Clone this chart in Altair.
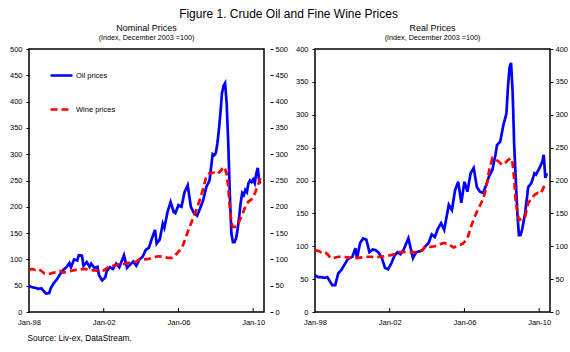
import altair as alt
import pandas as pd

# ---------------- data ----------------
nom_oil_dates = ["1998-01", "1998-03", "1998-05", "1998-07", "1998-09", "1998-11", "1998-12",
                 "1999-02", "1999-03", "1999-05", "1999-07", "1999-09", "1999-11",
                 "2000-01", "2000-03", "2000-04", "2000-06", "2000-08", "2000-09", "2000-11", "2000-12",
                 "2001-02", "2001-04", "2001-05", "2001-07", "2001-09", "2001-10", "2001-12",
                 "2002-02", "2002-03", "2002-05", "2002-07", "2002-09", "2002-11",
                 "2003-02", "2003-04", "2003-06", "2003-08", "2003-10", "2003-12",
                 "2004-02", "2004-04", "2004-06", "2004-08", "2004-10", "2004-11",
                 "2005-01", "2005-03", "2005-04", "2005-06", "2005-08", "2005-10", "2005-11",
                 "2006-01", "2006-03", "2006-05", "2006-07", "2006-09", "2006-11",
                 "2007-01", "2007-03", "2007-05", "2007-07", "2007-09", "2007-10", "2007-11", "2007-12",
                 "2008-01", "2008-02", "2008-03", "2008-04", "2008-05", "2008-06", "2008-07", "2008-08",
                 "2008-09", "2008-10", "2008-11", "2008-12",
                 "2009-01", "2009-02", "2009-03", "2009-04", "2009-05", "2009-06", "2009-07", "2009-08",
                 "2009-09", "2009-10", "2009-11", "2009-12",
                 "2010-01", "2010-02", "2010-03", "2010-04", "2010-05", "2010-06"]
nom_oil_vals = [50, 47, 46, 44, 45, 38, 35,
                36, 45, 55, 62, 72, 80,
                85, 93, 85, 100, 98, 108, 107, 88,
                95, 86, 92, 84, 86, 70, 60,
                66, 78, 85, 82, 92, 85,
                108, 84, 90, 96, 88, 100,
                105, 118, 122, 140, 156, 130,
                138, 168, 160, 190, 209, 190, 188,
                203, 200, 228, 241, 200, 188,
                183, 197, 213, 238, 250, 275, 300, 298,
                302, 320, 345, 378, 416, 430, 435, 397,
                321, 226, 150, 133,
                133, 140, 156, 180, 207, 226, 222, 232,
                228, 245, 250, 247,
                252, 245, 262, 274, 247, 245]

nom_wine_dates = ["1998-01", "1998-03", "1998-05", "1998-07", "1998-09", "1998-11",
                  "1999-01", "1999-03", "1999-05", "1999-07", "1999-09", "1999-11",
                  "2000-01", "2000-04", "2000-07", "2000-10",
                  "2001-01", "2001-04", "2001-07", "2001-10",
                  "2002-01", "2002-04", "2002-07", "2002-10",
                  "2003-01", "2003-04", "2003-07", "2003-10", "2003-12",
                  "2004-03", "2004-06", "2004-09", "2004-12",
                  "2005-03", "2005-06", "2005-09", "2005-12",
                  "2006-02", "2006-04", "2006-07", "2006-10",
                  "2007-01", "2007-03", "2007-05", "2007-07", "2007-09", "2007-12",
                  "2008-02", "2008-04", "2008-06", "2008-07", "2008-08", "2008-09", "2008-10",
                  "2008-11", "2008-12",
                  "2009-02", "2009-04", "2009-06", "2009-08", "2009-10", "2009-12",
                  "2010-02", "2010-04", "2010-06"]
nom_wine_vals = [80, 82, 80, 82, 78, 73,
                 72, 73, 75, 76, 78, 75,
                 76, 78, 80, 81,
                 82, 80, 79, 78,
                 79, 85, 88, 90,
                 90, 93, 95, 96, 100,
                 100, 101, 104, 106,
                 105, 103, 103, 111,
                 118, 127, 152, 175,
                 198, 215, 235, 258, 264, 265,
                 262, 268, 276, 272, 262, 238, 200,
                 170, 162,
                 162, 172, 185, 200, 210, 214,
                 225, 240, 257]

real_oil_dates = ["1998-01", "1998-03", "1998-05", "1998-07", "1998-09", "1998-11", "1998-12",
                  "1999-02", "1999-04", "1999-06", "1999-08", "1999-10",
                  "2000-01", "2000-03", "2000-04", "2000-06", "2000-08", "2000-10", "2000-12",
                  "2001-02", "2001-04", "2001-06", "2001-08", "2001-10", "2001-12",
                  "2002-02", "2002-04", "2002-06", "2002-08", "2002-10",
                  "2003-01", "2003-04", "2003-06", "2003-08", "2003-10", "2003-12",
                  "2004-02", "2004-04", "2004-06", "2004-08", "2004-10", "2004-12",
                  "2005-03", "2005-05", "2005-07", "2005-09", "2005-11",
                  "2006-01", "2006-03", "2006-05", "2006-07", "2006-09", "2006-11",
                  "2007-01", "2007-03", "2007-05", "2007-07", "2007-09", "2007-10", "2007-12",
                  "2008-02", "2008-04", "2008-05", "2008-06", "2008-07", "2008-08",
                  "2008-09", "2008-10", "2008-11", "2008-12",
                  "2009-01", "2009-02", "2009-04", "2009-06", "2009-08", "2009-10", "2009-11",
                  "2010-01", "2010-03", "2010-04", "2010-05", "2010-06"]
real_oil_vals = [56, 53, 53, 52, 53, 45, 41,
                 41, 59, 64, 72, 80,
                 84, 97, 82, 105, 112, 110, 91,
                 95, 94, 90, 82, 67, 65,
                 74, 85, 91, 88, 95,
                 112, 82, 91, 92, 94, 100,
                 105, 118, 114, 127, 135, 125,
                 163, 155, 185, 198, 166,
                 198, 183, 211, 219, 190, 183,
                 181, 193, 207, 216, 240, 254, 259,
                 284, 302, 342, 372, 379, 333,
                 251, 200, 150, 117,
                 117, 125, 150, 190, 196, 211, 209,
                 218, 228, 239, 204, 211]

real_wine_dates = ["1998-01", "1998-03", "1998-05", "1998-07", "1998-09", "1998-11",
                   "1999-01", "1999-04", "1999-07", "1999-10",
                   "2000-01", "2000-04", "2000-07", "2000-10",
                   "2001-01", "2001-04", "2001-07", "2001-10",
                   "2002-01", "2002-04", "2002-07", "2002-10",
                   "2003-01", "2003-04", "2003-07", "2003-10", "2003-12",
                   "2004-03", "2004-06", "2004-09", "2004-12",
                   "2005-03", "2005-06", "2005-09", "2005-12",
                   "2006-03", "2006-05", "2006-08", "2006-11",
                   "2007-01", "2007-03", "2007-05", "2007-07", "2007-09", "2007-11",
                   "2008-01", "2008-03", "2008-05", "2008-07", "2008-08", "2008-09", "2008-10",
                   "2008-12",
                   "2009-02", "2009-04", "2009-06", "2009-08", "2009-10", "2009-12",
                   "2010-02", "2010-04", "2010-06"]
real_wine_vals = [94, 93, 91, 92, 88, 82,
                  82, 84, 84, 83,
                  82, 82, 83, 84,
                  84, 83, 84, 85,
                  86, 88, 91, 91,
                  91, 91, 91, 94, 100,
                  99, 100, 103, 105,
                  103, 98, 101, 104,
                  112, 128, 147, 162,
                  172, 188, 216, 234, 232, 229,
                  224, 226, 231, 234, 225, 201, 166,
                  140,
                  142, 145, 166, 172, 178, 181,
                  180, 190, 196]

series_names = ["Oil prices", "Wine prices"]
series_colors = ["#0000ff", "#ff0000"]
series_dashes = [[1, 0], [7, 4]]
tick_years = [1998, 2002, 2006, 2010]
inner_tick_dates = ["2002-01-01", "2006-01-01", "2010-01-01"]

FONT = "Liberation Sans"
W, H = 235, 263


def make_df(od, ov, wd, wv):
    return pd.DataFrame({
        "date": [d + "-01" for d in od] + [d + "-01" for d in wd],
        "value": ov + wv,
        "series": [series_names[0]] * len(od) + [series_names[1]] * len(wd),
    })


def panel(df, ymax, title, source, right_offset):
    xscale = alt.Scale(type="utc",
                       domain=[alt.DateTime(year=1998, month=1, date=1, utc=True),
                               alt.DateTime(year=2010, month=8, date=1, utc=True)])
    yscale = alt.Scale(domain=[0, ymax], nice=False, zero=True)
    yvals = list(range(0, ymax + 1, 50))
    leg = alt.Legend(title=None, orient="none", legendX=20, legendY=14,
                     symbolType="stroke", symbolSize=484, symbolStrokeWidth=2.6,
                     labelFontSize=7.5, labelFont=FONT, labelColor="black",
                     rowPadding=16, labelOffset=2, padding=0)
    xaxis = alt.Axis(values=[alt.DateTime(year=y, month=1, date=1, utc=True) for y in tick_years],
                     format="%b-%y", tickSize=0, labelPadding=6, labelFlush=False,
                     grid=False, domain=False, labelFontSize=7.5, labelColor="black",
                     title=source if source else "",
                     titleAnchor="start", titleAlign="left", titleFontSize=8.3,
                     titleFontWeight="normal", titleX=-2, titleY=26, titleBaseline="middle",
                     titleColor="black")
    xenc = alt.X("date:T", scale=xscale, axis=xaxis)
    lines = alt.Chart(df).mark_line(strokeWidth=2.7, strokeCap="butt").encode(
        x=xenc,
        y=alt.Y("value:Q", scale=yscale,
                axis=alt.Axis(values=yvals, title=None, grid=False, domain=False,
                              tickSize=3, labelPadding=4, labelFontSize=7.5,
                              labelColor="black", orient="left")),
        color=alt.Color("series:N", scale=alt.Scale(domain=series_names, range=series_colors),
                        legend=leg),
        strokeDash=alt.StrokeDash("series:N",
                                  scale=alt.Scale(domain=series_names, range=series_dashes),
                                  legend=leg),
    )
    ghost = alt.Chart(df).mark_line(opacity=0).encode(
        x=xenc,
        y=alt.Y("value:Q", scale=yscale,
                axis=alt.Axis(values=yvals, title=None, grid=False, domain=False,
                              tickSize=3, labelPadding=2, labelFontSize=7.5,
                              labelColor="black", orient="right", offset=right_offset)),
    )
    ticks = alt.Chart(pd.DataFrame({"date": inner_tick_dates})).mark_rule(
        color="black", strokeWidth=1).encode(
        x=xenc,
        y=alt.value(H), y2=alt.value(H - 4),
    )
    return alt.layer(lines, ghost, ticks).resolve_scale(y="independent").properties(
        width=W, height=H,
        title=alt.TitleParams(text=title, subtitle="(Index, December 2003 =100)",
                              fontSize=9, subtitleFontSize=7.2, fontWeight="normal",
                              font=FONT, subtitleFont=FONT, anchor="middle",
                              offset=4, subtitlePadding=1, color="black",
                              subtitleColor="black"),
    )


left = panel(make_df(nom_oil_dates, nom_oil_vals, nom_wine_dates, nom_wine_vals),
             500, "Nominal Prices", "Source: Liv-ex, DataStream.", 6)
right = panel(make_df(real_oil_dates, real_oil_vals, real_wine_dates, real_wine_vals),
              400, "Real Prices", None, 0)

chart = alt.hconcat(left, right, spacing=5).properties(
    title=alt.TitleParams(text="Figure 1. Crude Oil and Fine Wine Prices", fontSize=12,
                          fontWeight="normal", font=FONT, anchor="middle", color="black",
                          offset=2),
    padding={"left": 8, "top": 8, "right": 0, "bottom": 0},
).configure(font=FONT).configure_view(stroke="black", strokeWidth=1.5).configure_axis(
    labelFont=FONT, tickColor="black")

chart.save("out.html", embed_options={"renderer": "svg", "actions": False})
